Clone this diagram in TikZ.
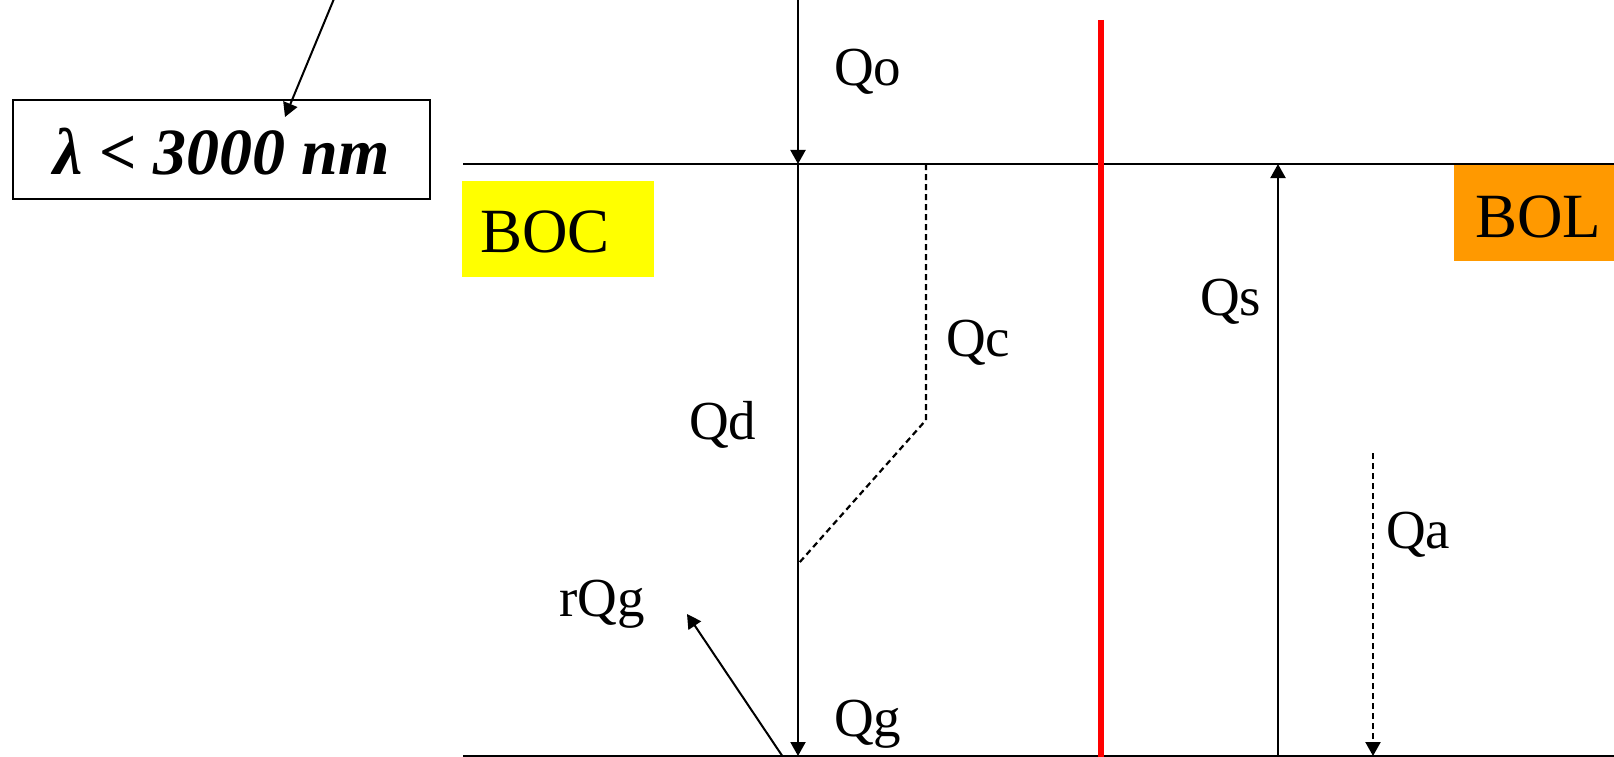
\documentclass[tikz,border=0pt]{standalone}
\usepackage{fontspec}
\setmainfont{Liberation Serif}
\usetikzlibrary{arrows.meta}
\definecolor{bocyellow}{HTML}{FFFF00}
\definecolor{bolorange}{HTML}{FF9900}
\definecolor{redline}{HTML}{FF0000}
\tikzset{
  ln/.style={line width=2pt, black},
  arr/.style={ln, -{Triangle[length=14pt,width=15pt]}},
  dsh/.style={line width=2.2pt, dash pattern=on 6pt off 4pt},
  lbl/.style={anchor=base west, inner sep=0pt, font=\fontsize{55}{60}\selectfont},
  big/.style={anchor=base west, inner sep=0pt, font=\fontsize{63}{70}\selectfont},
  lamfont/.style={anchor=base west, inner sep=0pt, font=\fontsize{66}{72}\selectfont},
}
\begin{document}
\begin{tikzpicture}[x=1pt,y=-1pt]
\useasboundingbox (0,0) rectangle (1614,757);
% coloured boxes
\fill[bocyellow] (462,181) rectangle (654,277);
\fill[bolorange] (1454,165) rectangle (1614,261);
% lambda box
\draw[line width=2pt] (13,100) rectangle (430,199);
\node[lamfont] (lam) at (53,174) {\textbf{\textit{λ < 3000 nm}}};
\coordinate (lamsrc) at (336,-6);
\coordinate (lamtip) at (285,117);
\draw[arr] (lamsrc) -- (lamtip);
% horizontal lines
\coordinate (tl) at (463,164);
\coordinate (tr) at (1614,164);
\coordinate (bl) at (463,756);
\coordinate (br) at (1614,756);
\draw[ln] (tl) -- (tr);
\draw[ln] (bl) -- (br);
% Qo, Qd
\coordinate (qotop) at (798,0);
\coordinate (qomid) at (798,164);
\coordinate (qdbot) at (798,756);
\draw[arr] (qotop) -- (qomid);
\draw[arr] (qomid) -- (qdbot);
% Qc dashed
\coordinate (qc1) at (926,164);
\coordinate (qc2) at (926,420);
\coordinate (qc3) at (799,563);
\draw[dsh] (qc1) -- (qc2) -- (qc3);
% rQg
\coordinate (rq1) at (785,760);
\coordinate (rq2) at (687,614);
\draw[arr] (rq1) -- (rq2);
% Qs
\coordinate (qs1) at (1278,757);
\coordinate (qs2) at (1278,164);
\draw[arr] (qs1) -- (qs2);
% Qa dashed
\coordinate (qa1) at (1373,453);
\coordinate (qa2) at (1373,756);
\draw[dsh, -{Triangle[length=14pt,width=15pt]}] (qa1) -- (qa2);
% red line
\coordinate (r1) at (1101,20);
\coordinate (r2) at (1101,757);
\draw[redline, line width=6pt] (r1) -- (r2);
% labels
\node[big] (boc) at (480,252) {BOC};
\node[big] (bol) at (1475,237) {BOL};
\node[lbl] (qo) at (834,86) {Qo};
\node[lbl] (qc) at (946,356) {Qc};
\node[lbl] (qd) at (689,439) {Qd};
\node[lbl] (qs) at (1200,315) {Qs};
\node[lbl] (qa) at (1386,548) {Qa};
\node[lbl] (rqg) at (559,616) {rQg};
\node[lbl] (qg) at (834,736) {Qg};
\end{tikzpicture}
\end{document}
